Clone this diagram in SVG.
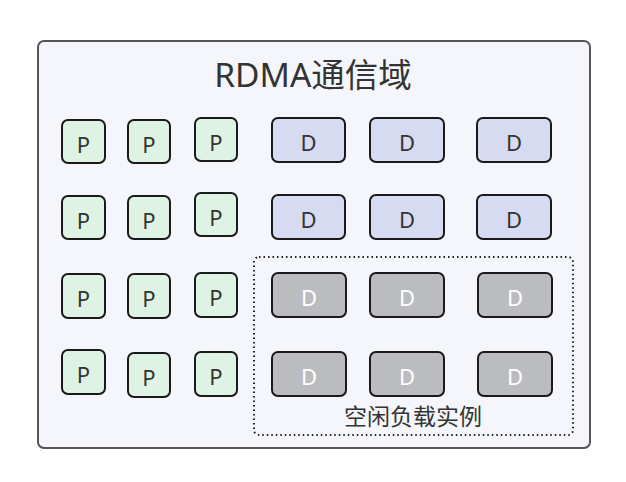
<svg xmlns="http://www.w3.org/2000/svg" width="626" height="482" viewBox="0 0 626 482">
<style>
.t{font-family:"Noto Sans","Noto Sans CJK SC",sans-serif;fill:#333;}
.p rect{fill:#dff3e4;stroke:#1a1a1a;stroke-width:2;}
.d rect{fill:#d6dbf2;stroke:#1a1a1a;stroke-width:2;}
.g rect{fill:#bbbcbf;stroke:#1a1a1a;stroke-width:2;}
.n text{font-family:"Noto Sans","Noto Sans CJK SC",sans-serif;font-size:22px;text-anchor:middle;fill:#333;}
.g text{fill:#fff;}
</style>
<g id="domain">
<rect x="38" y="41" width="552" height="407" rx="6" fill="#f5f6fb" stroke="#555" stroke-width="2"/>
<text class="t" x="313" y="87" font-size="33.5" text-anchor="middle">RDMA通信域</text>
</g>
<g id="idle">
<rect x="254" y="257" width="319" height="178" rx="5" fill="none" stroke="#222" stroke-width="2" stroke-dasharray="1.5 3"/>
<text class="t" x="413" y="425" font-size="23" text-anchor="middle">空闲负载实例</text>
</g>
<g id="p11" class="n p"><rect x="62" y="120" width="43" height="43" rx="6"/><text x="83.5" y="153">P</text></g>
<g id="p12" class="n p"><rect x="128" y="120" width="42" height="43" rx="6"/><text x="149" y="153">P</text></g>
<g id="p13" class="n p"><rect x="195" y="118" width="42" height="43" rx="6"/><text x="216" y="151">P</text></g>
<g id="p21" class="n p"><rect x="62" y="196" width="43" height="43" rx="6"/><text x="83.5" y="229">P</text></g>
<g id="p22" class="n p"><rect x="128" y="196" width="42" height="43" rx="6"/><text x="149" y="229">P</text></g>
<g id="p23" class="n p"><rect x="195" y="193" width="42" height="43" rx="6"/><text x="216" y="226">P</text></g>
<g id="p31" class="n p"><rect x="62" y="274" width="43" height="44" rx="6"/><text x="83.5" y="307">P</text></g>
<g id="p32" class="n p"><rect x="128" y="274" width="42" height="44" rx="6"/><text x="149" y="307">P</text></g>
<g id="p33" class="n p"><rect x="195" y="273" width="42" height="44" rx="6"/><text x="216" y="306">P</text></g>
<g id="p41" class="n p"><rect x="62" y="350" width="43" height="44" rx="6"/><text x="83.5" y="383">P</text></g>
<g id="p42" class="n p"><rect x="128" y="353" width="42" height="44" rx="6"/><text x="149" y="386">P</text></g>
<g id="p43" class="n p"><rect x="195" y="352" width="42" height="44" rx="6"/><text x="216" y="385">P</text></g>
<g id="d11" class="n d"><rect x="272" y="118" width="73" height="44" rx="6"/><text x="308.5" y="151">D</text></g>
<g id="d12" class="n d"><rect x="370" y="118" width="74" height="44" rx="6"/><text x="407" y="151">D</text></g>
<g id="d13" class="n d"><rect x="477" y="118" width="74" height="44" rx="6"/><text x="514" y="151">D</text></g>
<g id="d21" class="n d"><rect x="272" y="195" width="73" height="44" rx="6"/><text x="308.5" y="228">D</text></g>
<g id="d22" class="n d"><rect x="370" y="195" width="74" height="44" rx="6"/><text x="407" y="228">D</text></g>
<g id="d23" class="n d"><rect x="477" y="195" width="74" height="44" rx="6"/><text x="514" y="228">D</text></g>
<g id="d31" class="n g"><rect x="272" y="273" width="74" height="44" rx="6"/><text x="309" y="306">D</text></g>
<g id="d32" class="n g"><rect x="370" y="273" width="74" height="44" rx="6"/><text x="407" y="306">D</text></g>
<g id="d33" class="n g"><rect x="478" y="273" width="74" height="44" rx="6"/><text x="515" y="306">D</text></g>
<g id="d41" class="n g"><rect x="272" y="352" width="74" height="44" rx="6"/><text x="309" y="385">D</text></g>
<g id="d42" class="n g"><rect x="370" y="352" width="74" height="44" rx="6"/><text x="407" y="385">D</text></g>
<g id="d43" class="n g"><rect x="478" y="352" width="74" height="44" rx="6"/><text x="515" y="385">D</text></g>
<g id="connectors"></g>
</svg>
